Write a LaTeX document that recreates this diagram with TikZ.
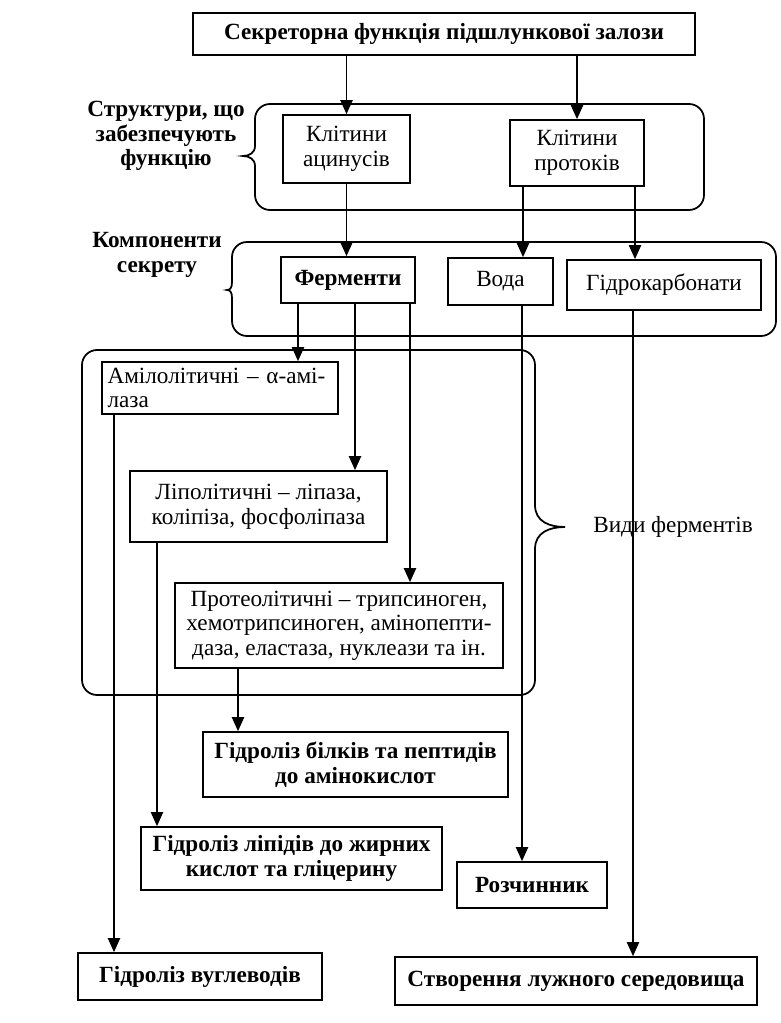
\documentclass[tikz,border=0pt]{standalone}
\usepackage{fontspec}
\setmainfont{Liberation Serif}
\usetikzlibrary{arrows.meta}
\usetikzlibrary{positioning}
\tikzstyle{block}=[draw,line width=1pt,inner sep=2pt,align=center,font=\fontsize{13.2}{14}\selectfont]
\tikzstyle{heavy}=[font=\fontsize{13.2}{14}\selectfont\bfseries]
\tikzstyle{note}=[align=center,font=\fontsize{13.2}{14}\selectfont]
\tikzstyle{arr}=[-{Triangle[length=8pt,width=7pt]}]
\tikzstyle{group}=[line width=1pt,rounded corners=0.3cm]

\begin{document}
\begin{tikzpicture}[x=0.02cm,y=-0.02cm,line width=0.8pt]
\useasboundingbox (0,0) rectangle (780,1023);

\node [block,heavy,minimum width=10.04cm,minimum height=0.84cm] (sec) at (444,34) {Секреторна функція підшлункової залози};

\node [block,minimum width=2.54cm,minimum height=1.36cm] (aci) at (346.5,149) {Клітини\\ацинусів};
\node [block,minimum width=2.68cm,minimum height=1.32cm] (prot) at (577,153) {Клітини\\протоків};

\node [block,heavy,minimum width=2.68cm,minimum height=0.92cm] (ferm) at (348,280) {Ферменти};
\node [block,minimum width=2.1cm,minimum height=0.94cm] (voda) at (500.5,281.5) {Вода};
\node [block,minimum width=3.88cm,minimum height=1cm] (hydro) at (664,285) {Гідрокарбонати};

\node [block,align=left,text width=4.5cm,inner xsep=0.11cm,minimum height=1.04cm] (amilo) at (220,388) {Амілолітичні – α-амі-\\лаза};
\node [block,minimum width=5.14cm,minimum height=1.42cm] (lipo) at (258.5,506.5) {Ліполітичні – ліпаза,\\коліпіза, фосфоліпаза};
\node [block,minimum width=6.56cm,minimum height=1.7cm] (proteo) at (339,625.5) {Протеолітичні – трипсиноген,\\хемотрипсиноген, амінопепти-\\даза, еластаза, нуклеази та ін.};

\node [block,heavy,minimum width=6.1cm,minimum height=1.3cm] (bilk) at (355.5,764.5) {Гідроліз білків та пептидів\\до амінокислот};
\node [block,heavy,minimum width=6.02cm,minimum height=1.26cm] (lipid) at (291.5,858.5) {Гідроліз ліпідів до жирних\\кислот та гліцерину};
\node [block,heavy,minimum width=3cm,minimum height=0.92cm] (rozch) at (532,885) {Розчинник};
\node [block,heavy,minimum width=4.88cm,minimum height=0.94cm] (vugl) at (200,976.5) {Гідроліз вуглеводів};
\node [block,heavy,minimum width=7.24cm,minimum height=0.96cm] (stvor) at (576,981) {Створення лужного середовища};

\node [note,heavy] (struct) at (166,136) {Структури, що\\забезпечують\\функцію};
\node [note,heavy] (comp) at (157,255) {Компоненти\\секрету};
\node [note] (kinds) at (673,527) {Види ферментів};

% braced groups
\draw[group] (255,146) -- (255,104) -- (704,104) -- (704,210) -- (255,210) -- (255,166);
\draw[line width=1pt] (255,146) .. controls (255,153) and (249,156) .. (243,156) .. controls (249,156) and (255,159) .. (255,166);
\draw[group] (232,282) -- (232,242) -- (776,242) -- (776,336) -- (232,336) -- (232,298);
\draw[line width=1pt] (232,282) .. controls (232,288) and (230,290) .. (227,290) .. controls (230,290) and (232,292) .. (232,298);
\draw[group] (535,505) -- (535,350) -- (82,350) -- (82,695) -- (535,695) -- (535,549);
\draw[line width=1pt] (535,505) .. controls (535,522) and (550,527) .. (565,527) .. controls (550,527) and (535,532) .. (535,549);

\draw[arr] (sec.south -| aci.north) -- (aci.north);
\draw[arr] (sec.south -| prot.north) -- (prot.north);
\draw[arr] (aci.south) -- (aci.south |- ferm.north);
\draw[arr] (prot.south -| 523,0) -- (voda.north -| 523,0);
\draw[arr] (prot.south -| 635,0) -- (hydro.north -| 635,0);
\draw[arr] (ferm.south -| 298,0) -- (amilo.north -| 298,0);
\draw[arr] (ferm.south -| 355,0) -- (lipo.north -| 355,0);
\draw[arr] (ferm.south -| 410,0) -- (proteo.north -| 410,0);
\draw[arr] (amilo.south -| 114,0) -- (vugl.north -| 114,0);
\draw[arr] (lipo.south -| 157,0) -- (lipid.north -| 157,0);
\draw[arr] (proteo.south -| 238,0) -- (bilk.north -| 238,0);
\draw[arr] (voda.south -| 522,0) -- (rozch.north -| 522,0);
\draw[arr] (hydro.south -| 633,0) -- (stvor.north -| 633,0);

\end{tikzpicture}
\end{document}
